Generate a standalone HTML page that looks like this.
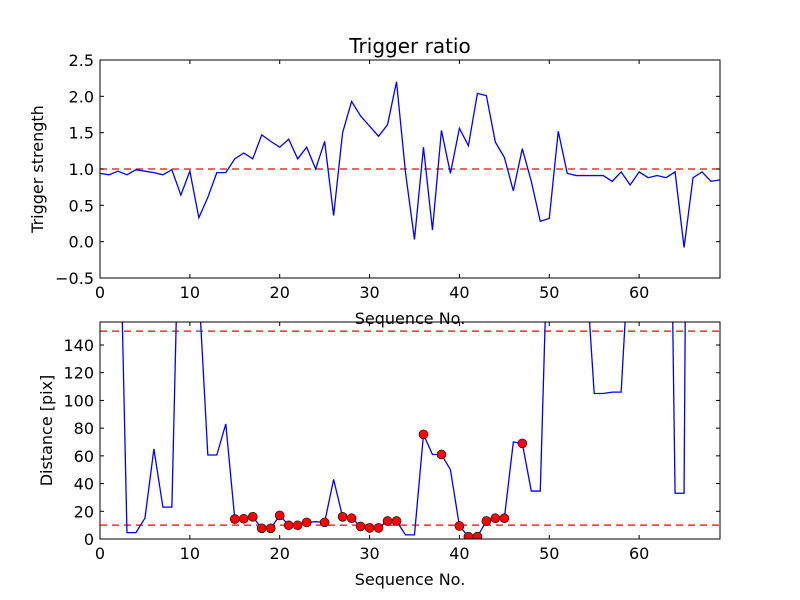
<!DOCTYPE html>
<html><head><meta charset="utf-8"><style>
html,body{margin:0;padding:0;background:#fff;}
svg{display:block;font-family:"DejaVu Sans","Liberation Sans",sans-serif;}
</style></head><body>
<svg id="chart" width="800" height="600" viewBox="0 0 800 600"></svg>
<script>
const seq = Array.from({length:70},(_,i)=>i);
const ratioValues = [0.94,0.92,0.97,0.92,0.99,0.97,0.95,0.92,0.99,0.64,0.97,0.33,0.61,0.95,0.95,1.14,1.22,1.14,1.47,1.38,1.30,1.41,1.14,1.30,1.00,1.38,0.36,1.50,1.93,1.73,1.59,1.45,1.61,2.20,0.95,0.03,1.30,0.16,1.53,0.94,1.56,1.32,2.04,2.01,1.37,1.16,0.70,1.28,0.83,0.28,0.32,1.52,0.94,0.91,0.91,0.91,0.91,0.83,0.96,0.78,0.96,0.88,0.91,0.88,0.96,-0.08,0.88,0.96,0.83,0.85];
const distValues = [300,300,300,4.6,4.6,15,65,23,23,300,300,180,60.6,60.6,83,14.4,14.6,16,7.7,7.7,17,9.9,9.9,12,12.5,12,43,16,15,9.1,8,8,13,13,3,3,75.5,61,61,50,9.4,1.7,1.7,13,15,15,70,69,34.6,34.6,260,300,300,300,205,105,105,106,106,222,300,300,300,510,33,33,1000,300,300,300];
const markedIdx = [15,16,17,18,19,20,21,22,23,25,27,28,29,30,31,32,33,36,38,40,41,42,43,44,45,47];
const xTicks = [0,10,20,30,40,50,60];
const ratioTicks = [-0.5,0.0,0.5,1.0,1.5,2.0,2.5];
const distTicks = [0,20,40,60,80,100,120,140];
const ratioThreshold = [1.0];
const distThresholds = [10,150];

const NS="http://www.w3.org/2000/svg";
const svg=document.getElementById('chart');
function mk(tag,attrs,parent){const e=document.createElementNS(NS,tag);for(const k in attrs)e.setAttribute(k,attrs[k]);(parent||svg).appendChild(e);return e;}
function fmt(v,d){return v<0?'\u2212'+Math.abs(v).toFixed(d):v.toFixed(d);}

function panel(name,top,bottom,ymin,ymax,vals,yt,dec,ylabel,thr,markers,title){
  const L=100,R=720;
  const xs=v=>L+(v-0)/(69-0)*(R-L);
  const ys=v=>bottom-(v-ymin)/(ymax-ymin)*(bottom-top);
  const g=mk('g',{});
  
  
  const cp=mk('clipPath',{id:'clip-'+name},g);
  mk('rect',{x:L,y:top,width:R-L,height:bottom-top},cp);
  const plot=mk('g',{'clip-path':'url(#clip-'+name+')'},g);
  thr.forEach(t=>{
    const l=mk('line',{x1:L,x2:R,y1:ys(t),y2:ys(t),stroke:'#ff0000','stroke-width':1.3,'stroke-dasharray':'7,5'},plot);
    
    
  });
  const pts=seq.map((s,i)=>xs(s).toFixed(2)+','+ys(vals[i]).toFixed(2)).join(' ');
  const pl=mk('polyline',{points:pts,fill:'none',stroke:'#0000ff','stroke-width':1.3},plot);
  
  
  (markers||[]).forEach(i=>{
    const c=mk('circle',{cx:xs(seq[i]),cy:ys(vals[i]),r:4.5,fill:'#ff0000',stroke:'#000','stroke-width':0.6},plot);
    
    
  });
  const fr=mk('rect',{x:L,y:top,width:R-L,height:bottom-top,fill:'none',stroke:'#000','stroke-width':1},g);
  
  
  xTicks.forEach(t=>{
    const x=xs(t);
    mk('line',{x1:x,x2:x,y1:bottom,y2:bottom-4,stroke:'#000'},g);
    mk('line',{x1:x,x2:x,y1:top,y2:top+4,stroke:'#000'},g);
    const tx=mk('text',{x:x,y:bottom+20,'text-anchor':'middle','font-size':16},g);
    tx.textContent=t;
    
    
  });
  yt.forEach(t=>{
    const y=ys(t);
    mk('line',{x1:L,x2:L+4,y1:y,y2:y,stroke:'#000'},g);
    mk('line',{x1:R,x2:R-4,y1:y,y2:y,stroke:'#000'},g);
    const tx=mk('text',{x:L-6,y:y+6,'text-anchor':'end','font-size':16},g);
    tx.textContent=fmt(t,dec);
    
    
  });
  const xl=mk('text',{x:(L+R)/2,y:bottom+46,'text-anchor':'middle','font-size':16},g);
  xl.textContent='Sequence No.';
  
  
  const cy=(top+bottom)/2;
  const yl=mk('text',{x:0,y:0,'text-anchor':'middle','font-size':16,transform:'translate('+(name==='ratio'?43:52)+','+cy+') rotate(-90)'},g);
  yl.textContent=ylabel;
  
  
  if(title){
    const tt=mk('text',{x:(L+R)/2,y:top-7,'text-anchor':'middle','font-size':20},g);
    tt.textContent=title;
    
    
  }
}
panel('ratio',60,278,-0.5,2.5,ratioValues,ratioTicks,1,'Trigger strength',ratioThreshold,null,'Trigger ratio');
panel('distance',322,539,0,156.6,distValues,distTicks,0,'Distance [pix]',distThresholds,markedIdx,null);
</script>
</body></html>
